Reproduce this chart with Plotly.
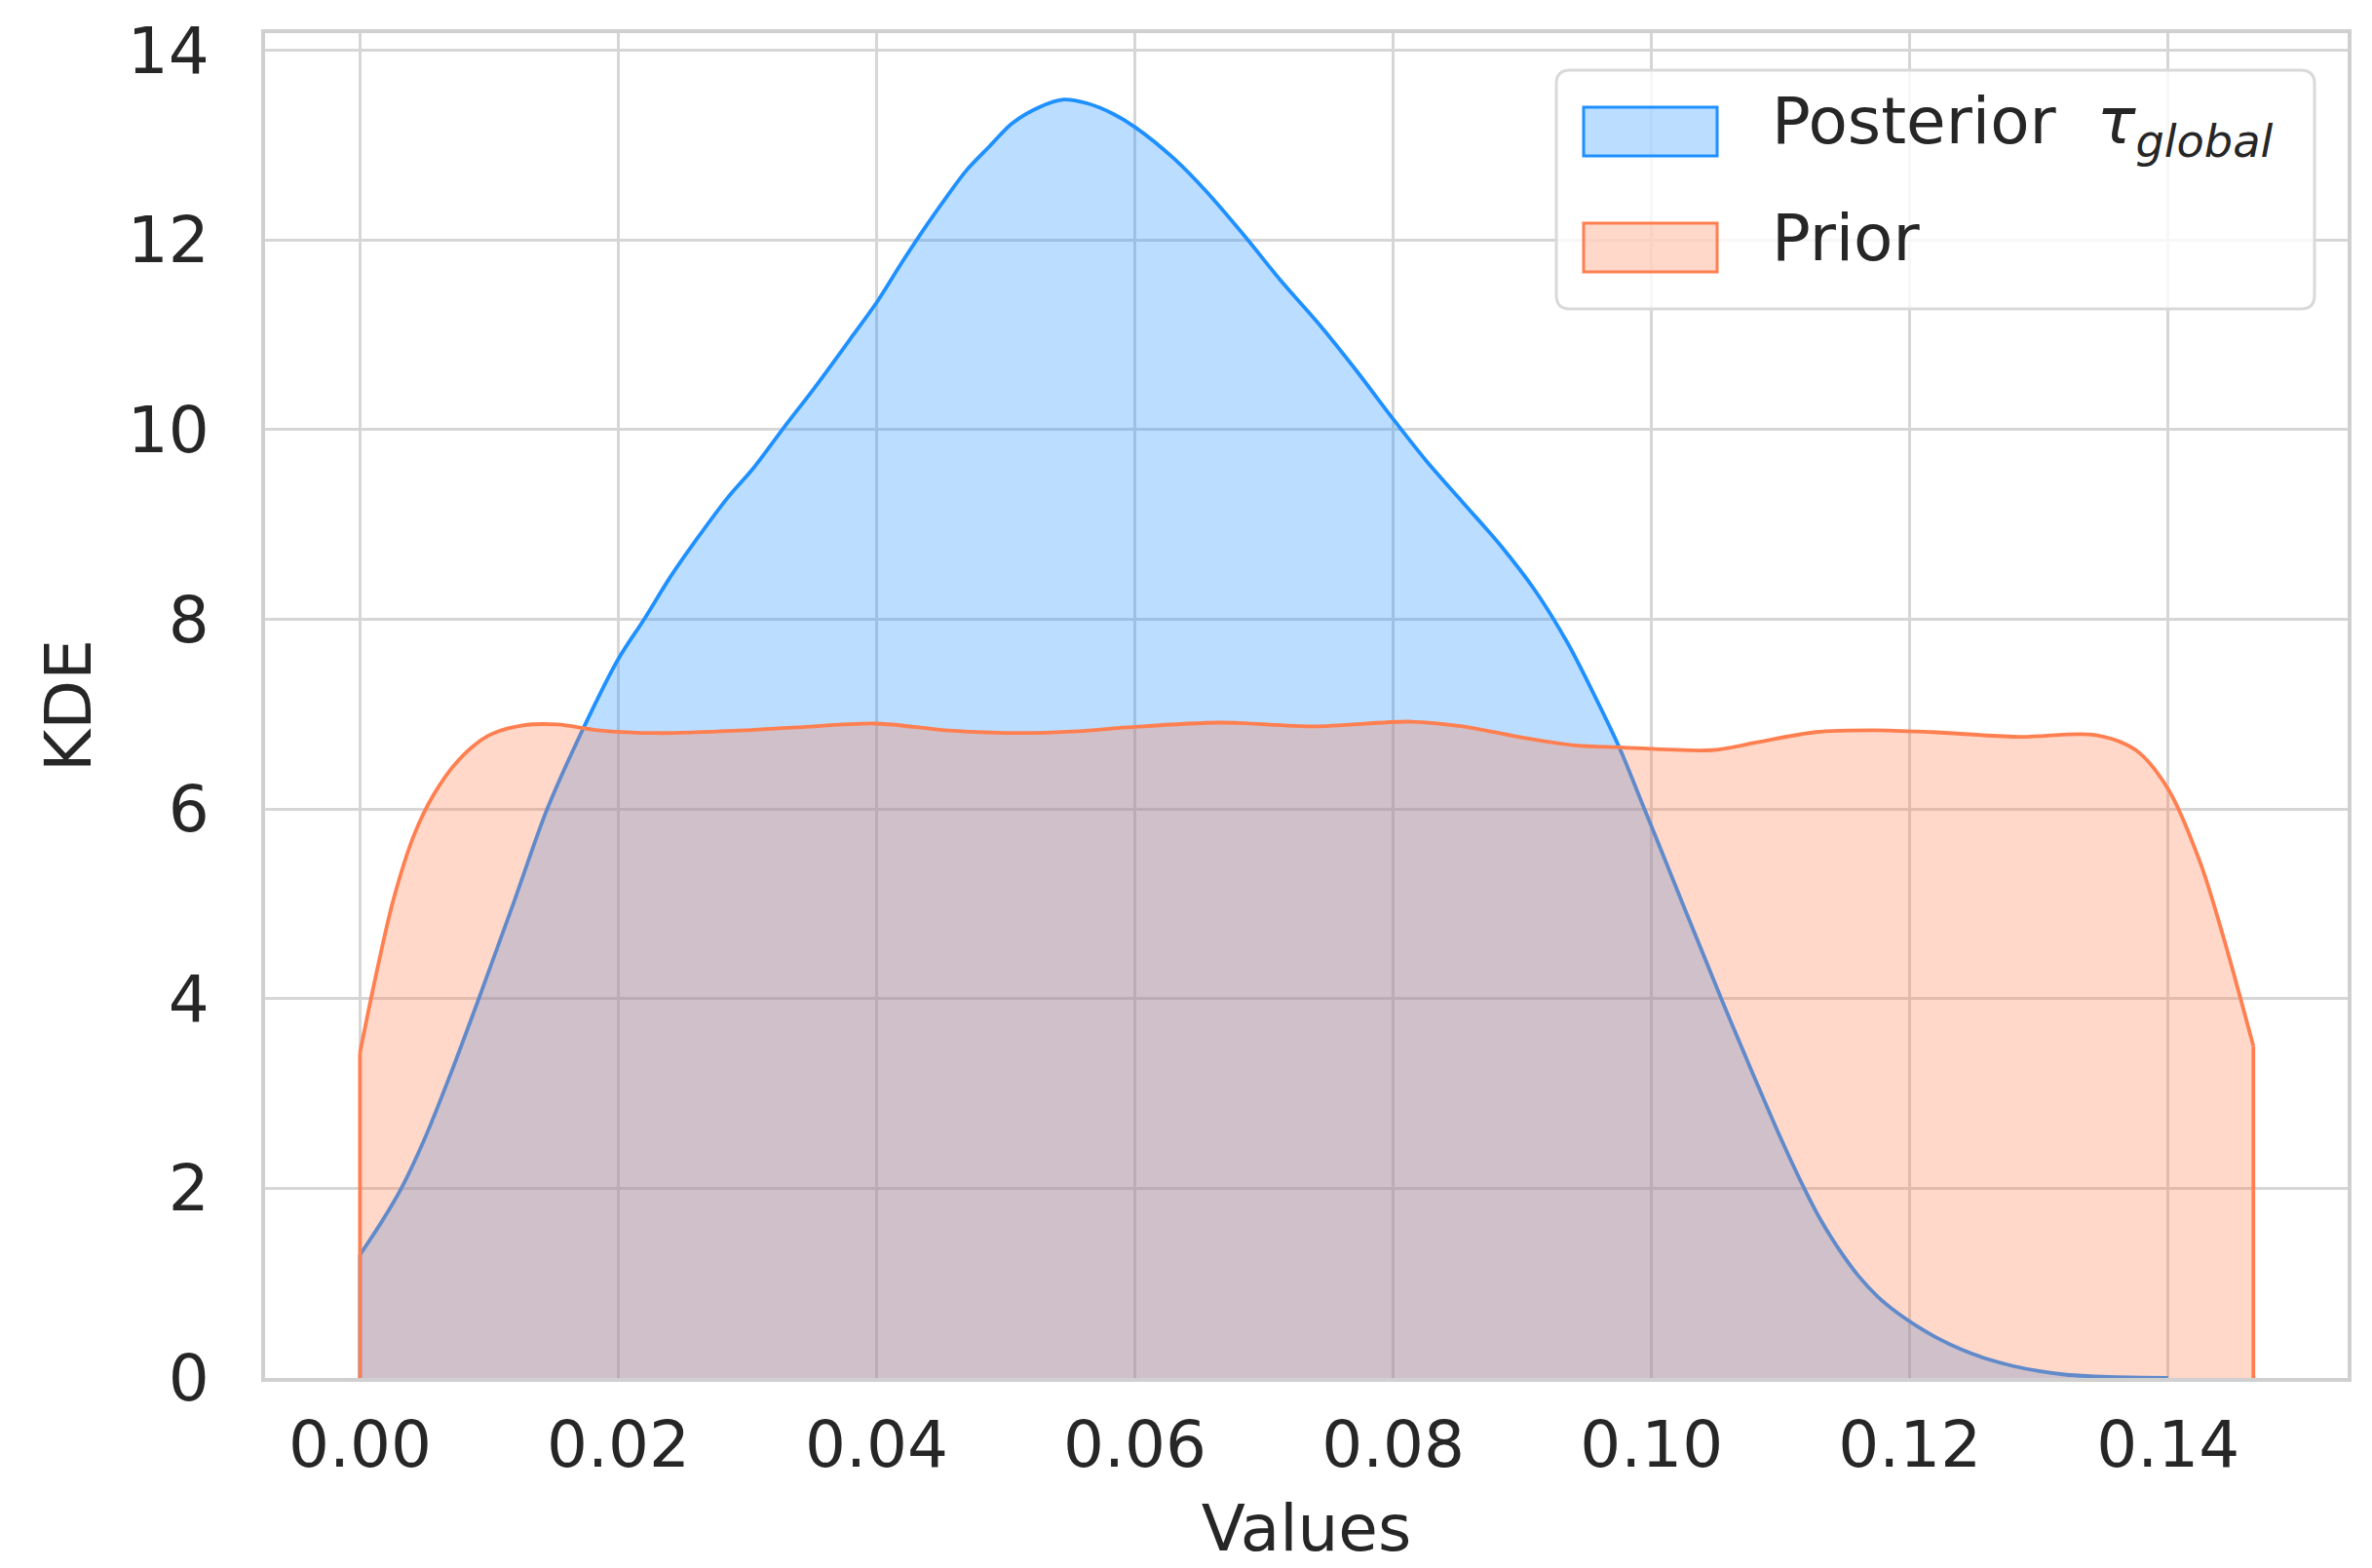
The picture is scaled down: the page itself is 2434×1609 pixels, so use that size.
import plotly.graph_objects as go

# ---- data (KDE curves) ----
post_x = [0.0, 0.0016, 0.0032, 0.0050, 0.0070, 0.0092, 0.0120, 0.0145, 0.0174, 0.0200,
          0.0220, 0.0240, 0.0261, 0.0284, 0.0305, 0.0327, 0.0353, 0.0382, 0.0401, 0.0419,
          0.0435, 0.0454, 0.0470, 0.0487, 0.0505, 0.0526, 0.0545, 0.0563, 0.0583, 0.0600,
          0.0630, 0.0656, 0.0685, 0.0713, 0.0742, 0.0771, 0.0800, 0.0825, 0.0854, 0.0883,
          0.0910, 0.0935, 0.0955, 0.0975, 0.0993, 0.1010, 0.1025, 0.1040, 0.1054, 0.1070,
          0.1085, 0.1100, 0.1115, 0.1130, 0.1145, 0.1160, 0.1175, 0.1190, 0.1205, 0.1220,
          0.1240, 0.1260, 0.1280, 0.1300, 0.1320, 0.1340, 0.1360, 0.1380, 0.1400]
post_y = [1.30, 1.63, 2.00, 2.52, 3.20, 4.00, 5.05, 6.00, 6.88, 7.58,
          8.00, 8.44, 8.85, 9.27, 9.60, 10.00, 10.46, 11.00, 11.36, 11.75,
          12.08, 12.45, 12.74, 12.98, 13.23, 13.40, 13.48, 13.44, 13.33, 13.19,
          12.86, 12.50, 12.04, 11.57, 11.12, 10.63, 10.11, 9.68, 9.23, 8.78,
          8.30, 7.75, 7.22, 6.65, 6.05, 5.48, 4.97, 4.47, 4.00, 3.48,
          3.00, 2.53, 2.09, 1.69, 1.36, 1.08, 0.86, 0.69, 0.55, 0.43,
          0.30, 0.20, 0.126, 0.072, 0.036, 0.018, 0.008, 0.003, 0.001]

prior_x = [0.0, 0.0011, 0.0026, 0.0042, 0.0057, 0.0076, 0.0099, 0.0126, 0.0153, 0.0184,
           0.0230, 0.0299, 0.0338, 0.0400, 0.0453, 0.0510, 0.0556, 0.0594, 0.0666, 0.0738,
           0.0814, 0.0854, 0.0897, 0.0941, 0.0975, 0.1047, 0.1081, 0.1127, 0.1172, 0.1217,
           0.1285, 0.1343, 0.1375, 0.1400, 0.1425, 0.1443, 0.1466]
prior_y = [3.43, 4.16, 5.05, 5.73, 6.15, 6.51, 6.77, 6.88, 6.89, 6.83,
           6.80, 6.83, 6.86, 6.90, 6.83, 6.80, 6.82, 6.86, 6.91, 6.87,
           6.92, 6.87, 6.76, 6.67, 6.65, 6.62, 6.70, 6.81, 6.83, 6.81,
           6.76, 6.78, 6.62, 6.21, 5.43, 4.64, 3.50]

x_ticks = [0.00, 0.02, 0.04, 0.06, 0.08, 0.10, 0.12, 0.14]
y_ticks = [0, 2, 4, 6, 8, 10, 12, 14]
series_labels = ["Posterior\u00a0 <i>τ</i><sub><i>global</i></sub>", "Prior"]
x_title = "Values"
y_title = "KDE"

# ---- styling ----
W, H = 2434, 1609
L, R, T, B = 264, 2401, 26, 1406
FONT = "DejaVu Sans"
TXT = "#262626"
FS = 66
BLUE = "rgb(30,144,255)"
BLUE_F = "rgba(30,144,255,0.3)"
CORAL = "rgb(255,127,80)"
CORAL_F = "rgba(255,127,80,0.3)"
LW = 3.8
GRID = "#d6d6d6"

def px(X):
    return (X - L) / (R - L)

def py(Y):
    return (B - Y) / (B - T)

fig = go.Figure()

for xs, ys, col, fc in [(post_x, post_y, BLUE, BLUE_F), (prior_x, prior_y, CORAL, CORAL_F)]:
    fig.add_trace(go.Scatter(
        x=xs, y=ys, mode="lines", fill="tozeroy", fillcolor=fc,
        line=dict(color=col, width=LW, shape="spline", smoothing=0.9),
        showlegend=False, hoverinfo="skip"))
    # vertical edges of the filled KDE outline at both ends
    fig.add_trace(go.Scatter(
        x=[xs[0], xs[0], None, xs[-1], xs[-1]],
        y=[0, ys[0], None, ys[-1], 0],
        mode="lines", line=dict(color=col, width=LW),
        showlegend=False, hoverinfo="skip"))

# ---- custom legend (matplotlib style) ----
def rounded_rect(X0, Y0, X1, Y1, r):
    x0, x1 = px(X0), px(X1)
    y0, y1 = py(Y0), py(Y1)
    rx, ry = r / (R - L), r / (B - T)
    return (f"M {x0+rx},{y0} L {x1-rx},{y0} Q {x1},{y0} {x1},{y0-ry} "
            f"L {x1},{y1+ry} Q {x1},{y1} {x1-rx},{y1} "
            f"L {x0+rx},{y1} Q {x0},{y1} {x0},{y1+ry} "
            f"L {x0},{y0-ry} Q {x0},{y0} {x0+rx},{y0} Z")

shapes = [
    dict(type="path", xref="paper", yref="paper",
         path=rounded_rect(1589, 64, 2367, 309, 14),
         fillcolor="rgba(255,255,255,0.8)", line=dict(color="#d9d9d9", width=3), layer="above"),
    dict(type="rect", xref="paper", yref="paper",
         x0=px(1617), x1=px(1754), y0=py(152), y1=py(102),
         fillcolor=BLUE_F, line=dict(color=BLUE, width=3), layer="above"),
    dict(type="rect", xref="paper", yref="paper",
         x0=px(1617), x1=px(1754), y0=py(271), y1=py(221),
         fillcolor=CORAL_F, line=dict(color=CORAL, width=3), layer="above"),
]

annotations = [
    dict(text=series_labels[0], xref="paper", yref="paper", x=px(1808), y=py(121),
         xanchor="left", yanchor="middle", showarrow=False,
         font=dict(family=FONT, size=FS, color=TXT)),
    dict(text=series_labels[1], xref="paper", yref="paper", x=px(1808), y=py(237),
         xanchor="left", yanchor="middle", showarrow=False,
         font=dict(family=FONT, size=FS, color=TXT)),
]

fig.update_layout(
    width=W, height=H,
    margin=dict(l=L, r=W - R, t=T, b=H - B, autoexpand=False),
    paper_bgcolor="white", plot_bgcolor="white",
    font=dict(family=FONT, size=FS, color=TXT),
    shapes=shapes, annotations=annotations, showlegend=False,
)

fig.update_xaxes(
    range=[-0.00735, 0.1539], tickvals=x_ticks, ticktext=[f"{v:.2f}" for v in x_ticks],
    showgrid=True, gridcolor=GRID, gridwidth=3, zeroline=False,
    showline=True, linecolor="#d0d0d0", linewidth=4, mirror=True,
    ticks="", ticklabelstandoff=8, automargin=False,
    tickfont=dict(family=FONT, size=FS, color=TXT),
    title=dict(text=x_title, font=dict(family=FONT, size=FS, color=TXT), standoff=26),
)
fig.update_yaxes(
    range=[0, 14.18], tickvals=y_ticks, ticktext=[str(v) for v in y_ticks],
    showgrid=True, gridcolor=GRID, gridwidth=3, zeroline=False,
    showline=True, linecolor="#d0d0d0", linewidth=4, mirror=True,
    ticks="", ticklabelstandoff=40, automargin=False,
    tickfont=dict(family=FONT, size=FS, color=TXT),
    title=dict(text=y_title, font=dict(family=FONT, size=FS, color=TXT), standoff=17),
)

fig.write_html("out.html")
